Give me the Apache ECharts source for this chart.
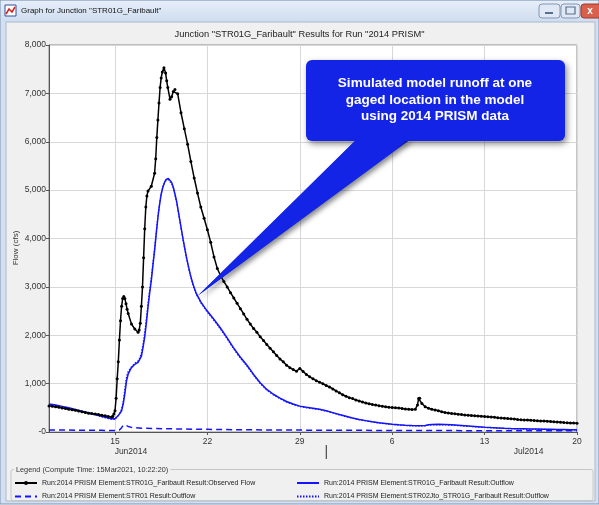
<!DOCTYPE html>
<html><head><meta charset="utf-8">
<script src="https://cdn.jsdelivr.net/npm/echarts@6/dist/echarts.min.js"></script>
<style>html,body{margin:0;padding:0;background:#fff}#c{width:599px;height:505px}</style>
</head><body><div id="c"></div><script>
// Time is given in hours after 10Jun2014 00:00
const windowTitle = 'Graph for Junction "STR01G_Faribault"';
const chartTitle = 'Junction "STR01G_Faribault" Results for Run "2014 PRISM"';
const yAxisName = 'Flow (cfs)';
const legendTitle = 'Legend (Compute Time: 15Mar2021, 10:22:20)';
const seriesNames = [
  'Run:2014 PRISM Element:STR01G_Faribault Result:Observed Flow',
  'Run:2014 PRISM Element:STR01G_Faribault Result:Outflow',
  'Run:2014 PRISM Element:STR01 Result:Outflow',
  'Run:2014 PRISM Element:STR02Jto_STR01G_Faribault Result:Outflow'
];
const calloutText = ['Simulated model runoff at one', 'gaged location in the model', 'using 2014 PRISM data'];
const calloutTarget = [271, 2820];

const dayTickHours = [120, 288, 456, 624, 792, 960];
const dayTickLabels = ['15', '22', '29', '6', '13', '20'];
const monthHours = [149, 872];
const monthLabels = ['Jun2014', 'Jul2014'];
const monthBreakHour = 504;

const observedFlow = [[0,540],[6,530],[12,520],[18,510],[24,495],[30,485],[36,470],[42,460],[48,450],[54,435],[60,420],[66,405],[72,390],[78,380],[84,370],[90,360],[96,345],[102,335],[108,320],[114,308],[116,320],[118,370],[120,440],[122,700],[124,1100],[126,1450],[128,1900],[130,2300],[132,2600],[134,2760],[136,2800],[138,2760],[140,2650],[142,2540],[144,2450],[150,2230],[156,2130],[162,2060],[164,2110],[166,2250],[168,2600],[170,3000],[172,3600],[174,4200],[176,4650],[178,4880],[180,4980],[186,5080],[192,5350],[194,5650],[196,6090],[198,6450],[200,6800],[202,7120],[204,7320],[206,7440],[209,7530],[212,7420],[214,7260],[216,7120],[220,6880],[223,6930],[226,7040],[229,7080],[234,6990],[240,6600],[246,6270],[252,5950],[258,5590],[264,5250],[270,4940],[276,4650],[282,4420],[288,4180],[294,3920],[300,3620],[306,3380],[312,3230],[318,3110],[324,3000],[330,2880],[336,2770],[342,2660],[348,2550],[354,2440],[360,2330],[366,2230],[372,2140],[378,2060],[384,1970],[390,1890],[396,1810],[402,1730],[408,1660],[414,1580],[420,1510],[426,1450],[432,1380],[438,1330],[444,1290],[450,1255],[456,1315],[462,1250],[468,1190],[474,1140],[480,1100],[486,1060],[492,1030],[498,1000],[504,960],[510,930],[516,890],[522,850],[528,810],[534,770],[540,740],[546,710],[552,690],[558,660],[564,640],[570,620],[576,600],[582,585],[588,570],[594,560],[600,545],[606,530],[612,520],[618,510],[624,505],[630,500],[636,495],[642,485],[648,475],[654,470],[660,465],[666,470],[670,560],[672,690],[674,700],[678,590],[684,520],[690,490],[696,470],[702,455],[708,440],[714,420],[720,405],[726,395],[732,385],[738,375],[744,365],[750,360],[756,350],[762,345],[768,340],[774,335],[780,330],[786,325],[792,320],[798,315],[804,310],[810,305],[816,295],[822,290],[828,285],[834,280],[840,275],[846,268],[852,260],[858,255],[864,250],[870,246],[876,242],[882,238],[888,233],[894,228],[900,225],[906,220],[912,215],[918,210],[924,205],[930,200],[936,195],[942,192],[948,188],[954,184],[960,180]];

const str01GOutflow = [[0,580],[12,560],[24,530],[36,500],[48,465],[60,430],[72,400],[84,365],[96,325],[108,290],[114,275],[117,268],[120,275],[123,305],[126,340],[129,375],[132,440],[135,580],[138,800],[141,1060],[144,1200],[147,1270],[150,1330],[153,1370],[156,1400],[162,1440],[165,1480],[168,1570],[171,1750],[174,1960],[177,2250],[180,2580],[183,2870],[186,3130],[189,3450],[192,3750],[195,4100],[198,4430],[201,4700],[204,4920],[207,5060],[210,5160],[213,5220],[217,5240],[220,5210],[223,5160],[226,5060],[229,4920],[232,4770],[235,4570],[238,4370],[241,4170],[244,3970],[247,3790],[250,3610],[253,3450],[256,3300],[259,3170],[262,3050],[265,2950],[268,2860],[276,2690],[287,2510],[299,2340],[311,2160],[323,1960],[335,1750],[347,1560],[360,1380],[372,1190],[384,1020],[396,880],[408,780],[420,700],[432,630],[444,580],[456,535],[468,510],[480,490],[492,470],[504,440],[516,400],[528,360],[540,325],[552,290],[564,260],[576,235],[588,210],[600,190],[612,175],[624,160],[636,148],[648,138],[660,132],[672,130],[684,135],[690,150],[696,155],[708,158],[720,155],[732,150],[744,140],[756,130],[768,120],[780,110],[792,100],[804,92],[816,85],[828,78],[840,72],[852,68],[864,65],[876,62],[888,60],[900,58],[912,55],[924,52],[936,50],[948,47],[960,45]];

const str01Outflow = [[0,42],[24,40],[48,38],[72,36],[96,34],[114,32],[120,32],[128,40],[132,90],[135,140],[137,155],[140,140],[144,115],[150,95],[156,88],[168,80],[192,72],[216,66],[240,62],[288,55],[336,48],[408,42],[480,38],[576,34],[672,30],[768,28],[864,26],[960,24]];

const str02JtoOutflow = [[0,560],[12,542],[24,512],[36,483],[48,448],[60,414],[72,384],[84,350],[96,311],[108,276],[114,262],[117,256],[120,262],[123,292],[126,335],[129,390],[132,470],[135,640],[138,900],[141,1150],[144,1250],[147,1300],[150,1350],[153,1390],[156,1420],[162,1470],[165,1530],[168,1640],[171,1820],[174,2050],[177,2340],[180,2650],[183,2930],[186,3190],[189,3500],[192,3800],[195,4130],[198,4450],[201,4720],[204,4930],[207,5060],[210,5150],[213,5200],[217,5215],[220,5185],[223,5135],[226,5040],[229,4900],[232,4750],[235,4550],[238,4350],[241,4150],[244,3950],[247,3770],[250,3590],[253,3430],[256,3280],[259,3150],[262,3030],[265,2930],[268,2840],[276,2670],[287,2490],[299,2320],[311,2140],[323,1940],[335,1730],[347,1540],[360,1360],[372,1172],[384,1002],[396,864],[408,765],[420,686],[432,617],[444,568],[456,524],[468,500],[480,480],[492,461],[504,432],[516,392],[528,353],[540,318],[552,284],[564,254],[576,229],[588,205],[600,185],[612,170],[624,155],[636,143],[648,133],[660,127],[672,125],[684,128],[690,140],[696,145],[708,148],[720,146],[732,141],[744,132],[756,122],[768,113],[780,103],[792,94],[804,86],[816,80],[828,73],[840,67],[852,63],[864,60],[876,57],[888,55],[900,53],[912,50],[924,47],[936,45],[948,42],[960,40]];

const FONT = 'Liberation Sans';
const BLUE = '#1414ff';
const chart = echarts.init(document.getElementById('c'), null, {renderer: 'canvas'});

const chrome = [
  {type: 'rect', z: -20, shape: {x: 0, y: 0, width: 599, height: 504}, style: {fill: '#d3e0f1', stroke: '#7d93b2', lineWidth: 1}},
  {type: 'rect', z: -19, shape: {x: 1, y: 1, width: 597, height: 21},
   style: {fill: new echarts.graphic.LinearGradient(0, 0, 0, 1, [{offset: 0, color: '#e6eef9'}, {offset: 1, color: '#cfddef'}])}},
  {type: 'rect', z: -18, shape: {x: 6, y: 22, width: 589, height: 479}, style: {fill: '#f0f0f0', stroke: '#a9b8cc', lineWidth: 1}},
  {type: 'rect', z: -17, shape: {x: 5, y: 5, width: 11, height: 11}, style: {fill: '#ffffff', stroke: '#3050a0', lineWidth: 1}},
  {type: 'polyline', z: -16, shape: {points: [[6, 14], [9, 9], [12, 12], [15, 7]]}, style: {stroke: '#d02020', lineWidth: 1.5, fill: null}},
  {type: 'text', z: -16, style: {text: windowTitle, x: 21, y: 11, font: '8px ' + FONT, fill: '#111', verticalAlign: 'middle'}},
  {type: 'rect', z: -16, shape: {x: 539, y: 4, width: 21, height: 14, r: 3}, style: {fill: '#dfe8f4', stroke: '#8197b5'}},
  {type: 'rect', z: -15, shape: {x: 545, y: 12, width: 8, height: 2}, style: {fill: '#5a6f8c'}},
  {type: 'rect', z: -16, shape: {x: 561, y: 4, width: 19, height: 14, r: 3}, style: {fill: '#dfe8f4', stroke: '#8197b5'}},
  {type: 'rect', z: -15, shape: {x: 566, y: 7, width: 9, height: 7}, style: {fill: 'none', stroke: '#5a6f8c', lineWidth: 1.2}},
  {type: 'rect', z: -16, shape: {x: 581, y: 4, width: 22, height: 14, r: 3}, style: {fill: '#d9604c', stroke: '#9a3a2c'}},
  {type: 'text', z: -15, style: {text: 'x', x: 590, y: 11, font: 'bold 10px ' + FONT, fill: '#fff', align: 'center', verticalAlign: 'middle'}},
  {type: 'text', z: -15, rotation: Math.PI / 2, x: 16, y: 248,
   style: {text: yAxisName, x: 0, y: 0, font: '8px ' + FONT, fill: '#333', align: 'center', verticalAlign: 'middle'}},
  {type: 'rect', z: -15, shape: {x: 11, y: 469.5, width: 582, height: 31, r: 2}, style: {fill: 'none', stroke: '#c6c6c6', lineWidth: 1}},
  {type: 'text', z: -14, style: {text: legendTitle, x: 14, y: 469.5, font: '7.3px ' + FONT, fill: '#333', verticalAlign: 'middle', backgroundColor: '#f0f0f0', padding: [0, 2]}}
];

const hideSym = {opacity: 0, borderWidth: 0};
const legendText = {fontSize: 7, color: '#222', fontFamily: FONT, lineHeight: 8};
const option = {
  animation: false,
  backgroundColor: '#ffffff',
  textStyle: {fontFamily: FONT},
  title: {text: chartTitle, left: 'center', top: 25, textStyle: {fontSize: 9.3, fontWeight: 'normal', color: '#222', fontFamily: FONT}},
  grid: {left: 49, right: 22, top: 45, bottom: 73, show: true, backgroundColor: '#ffffff', borderColor: '#8a8a8a', borderWidth: 1, z: 0},
  legend: [
    {left: 14, top: 479, orient: 'vertical', itemGap: 5.5, itemWidth: 22, itemHeight: 5, padding: 0,
     data: [{name: seriesNames[0]}, {name: seriesNames[2], itemStyle: hideSym}], textStyle: legendText},
    {left: 296, top: 479, orient: 'vertical', itemGap: 5.5, itemWidth: 22, itemHeight: 5, padding: 0,
     data: [{name: seriesNames[1], itemStyle: hideSym}, {name: seriesNames[3], itemStyle: hideSym}], textStyle: legendText}
  ],
  xAxis: [
    {type: 'value', min: 0, max: 960,
     axisLine: {show: true, onZero: false, lineStyle: {color: '#555'}},
     axisTick: {show: true, customValues: dayTickHours, length: 3, lineStyle: {color: '#555'}},
     axisLabel: {customValues: dayTickHours, formatter: v => dayTickLabels[dayTickHours.indexOf(v)], fontSize: 8.5, color: '#333', margin: 5, fontFamily: FONT},
     splitLine: {show: true, lineStyle: {color: '#d8d8d8'}}},
    {type: 'value', min: 0, max: 960, position: 'bottom', offset: 15,
     axisLine: {show: false}, axisTick: {show: false}, splitLine: {show: false},
     axisLabel: {customValues: [monthHours[0], monthBreakHour, monthHours[1]], margin: 0,
       formatter: v => v === monthBreakHour ? '{bar||}' : (v < monthBreakHour ? monthLabels[0] : monthLabels[1]),
       fontSize: 8.5, color: '#333', fontFamily: FONT,
       rich: {bar: {fontSize: 14, color: '#444', fontFamily: FONT, padding: [-2, 0, 0, 0]}}}}
  ],
  yAxis: {type: 'value', min: 0, max: 8000, interval: 1000,
    axisLine: {show: true, lineStyle: {color: '#555'}},
    axisTick: {show: true, length: 3, lineStyle: {color: '#555'}},
    axisLabel: {formatter: v => v === 0 ? '-0' : v.toLocaleString('en-US'), fontSize: 8.5, color: '#333', margin: 3, fontFamily: FONT},
    splitLine: {show: true, lineStyle: {color: '#d8d8d8'}}},
  series: [
    {name: seriesNames[0], type: 'line', data: observedFlow, symbol: 'circle', symbolSize: 3, showSymbol: true, showAllSymbol: true,
     itemStyle: {color: '#000'}, lineStyle: {color: '#000', width: 1.5}, z: 6},
    {name: seriesNames[1], type: 'line', data: str01GOutflow, symbol: 'none', itemStyle: {color: BLUE}, lineStyle: {color: BLUE, width: 1.5}, z: 4},
    {name: seriesNames[2], type: 'line', data: str01Outflow, symbol: 'none', itemStyle: {color: BLUE}, lineStyle: {color: BLUE, width: 1.5, type: [6, 4]}, z: 4},
    {name: seriesNames[3], type: 'line', data: str02JtoOutflow, symbol: 'none', itemStyle: {color: BLUE}, lineStyle: {color: BLUE, width: 1.2, type: [1.5, 1.5]}, z: 5}
  ],
  graphic: chrome
};
chart.setOption(option);

const tip = chart.convertToPixel({xAxisIndex: 0, yAxisIndex: 0}, calloutTarget);
const CALLOUT = '#1424e6';
chart.setOption({
  graphic: chrome.concat([
    {type: 'polygon', z: 50, shape: {points: [[357, 139], [411, 139], tip]},
     style: {fill: CALLOUT, shadowBlur: 5, shadowColor: 'rgba(0,0,0,0.45)', shadowOffsetX: 2, shadowOffsetY: 3}},
    {type: 'rect', z: 51, shape: {x: 306, y: 60, width: 259, height: 81, r: 6},
     style: {fill: CALLOUT, shadowBlur: 6, shadowColor: 'rgba(0,0,0,0.45)', shadowOffsetX: 2, shadowOffsetY: 3}},
    {type: 'polygon', z: 52, shape: {points: [[358, 138], [410, 138], tip]}, style: {fill: CALLOUT}},
    {type: 'text', z: 53, style: {text: calloutText.join('\n'), x: 435, y: 100, align: 'center', verticalAlign: 'middle',
      font: 'bold 13.5px ' + FONT, lineHeight: 16.5, fill: '#ffffff'}}
  ])
});
</script></body></html>
